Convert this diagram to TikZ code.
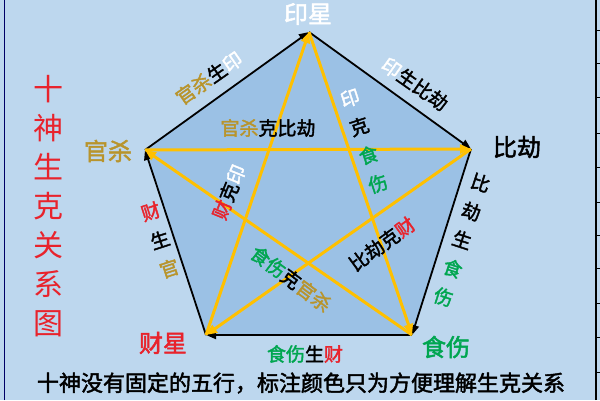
\documentclass[tikz,border=0pt]{standalone}
\usepackage{fontspec}
\setmainfont{Noto Sans CJK SC}[AutoFakeBold=2]
\usetikzlibrary{arrows.meta}
\usepackage{xcolor}
\definecolor{bgblue}{HTML}{BDD7EE}
\definecolor{penta}{HTML}{9BC1E5}
\definecolor{star}{HTML}{FFC000}
\definecolor{gs}{HTML}{B8942C}
\definecolor{ss}{HTML}{00A650}
\definecolor{cx}{HTML}{E8232C}

\begin{document}
\begin{tikzpicture}[x=1pt, y=1pt,
        sheng/.style={line width=1.8pt, -{Triangle[length=10pt, width=8pt]}},
        ke/.style={star, line width=3pt, -{Triangle[length=11pt, width=9pt]}},
        big/.style={font=\fontsize{24}{24}\selectfont\bfseries, inner sep=0pt},
        small/.style={font=\fontsize{19}{30}\selectfont\bfseries, inner sep=0pt, align=center}]
        \useasboundingbox (0, 0) rectangle (600, 400);
        \fill[bgblue] (0, 0) rectangle (600, 400);
        \draw[line width=1pt, black!60!blue] (4, 0)--(4, 400);
        \draw[line width=2.2pt] (596, 0)--(596, 400);
        \foreach \y in {28, 63, 97, 132, 165, 198, 233, 267, 303, 337, 370}
            \draw[line width=0.6pt] (596, \y)--(600, \y);

        % the five stars
        \coordinate (yin) at (309, 368);
        \coordinate (bijie) at (471, 251);
        \coordinate (shishang) at (412, 65);
        \coordinate (caixing) at (206, 65);
        \coordinate (guansha) at (145, 250);
        \fill[penta] (yin)--(bijie)--(shishang)--(caixing)--(guansha)--cycle;
        \path[sheng]
            (guansha) edge (yin)
            (yin) edge (bijie)
            (bijie) edge (shishang)
            (shishang) edge (caixing)
            (caixing) edge (guansha);
        \draw[ke] (guansha)--(bijie);
        \draw[ke] (bijie)--(caixing);
        \draw[ke] (caixing)--(yin);
        \draw[ke] (yin)--(shishang);
        \draw[ke] (shishang)--(guansha);

        \node[big, white] (yinlbl) at (308, 386) {印星};
        \node[big, black] (bijielbl) at (517, 253) {比劫};
        \node[big, ss] (shishanglbl) at (446, 53) {食伤};
        \node[big, cx] (caixinglbl) at (163, 57) {财星};
        \node[big, gs] (guanshalbl) at (108, 249) {官杀};

        % sheng along the edges
        \node[small, rotate=35] (gsy) at (209, 322) {{\color{gs}官杀}生{\color{white}印}};
        \node[small, rotate=-35] (ybj) at (415, 316) {{\color{white}印}生比劫};
        \node[small, rotate=-18] (bjss) at (462, 160) {比\\劫\\生\\{\color{ss}食}\\{\color{ss}伤}};
        \node[small] (sscx) at (305, 46) {{\color{ss}食伤}生{\color{cx}财}};
        \node[small, rotate=18] (cxgs) at (160, 160) {{\color{cx}财}\\生\\{\color{gs}官}};

        % ke inside
        \node[small] (gsbj) at (268, 272) {{\color{gs}官杀}克比劫};
        \node[small, rotate=18] (yss) at (364, 259) {{\color{white}印}\\克\\{\color{ss}食}\\{\color{ss}伤}};
        \node[small, rotate=68] (cxy) at (229, 208) {{\color{cx}财}克{\color{white}印}};
        \node[small, rotate=36] (bjcx) at (382, 156) {比劫克{\color{cx}财}};
        \node[small, rotate=-37] (ssgs) at (291, 121) {{\color{ss}食伤}克{\color{gs}官杀}};

        \node[font=\fontsize{30}{39}\selectfont, cx, align=center, inner sep=0pt] (title) at (48, 194)
            {十\\神\\生\\克\\关\\系\\图};
        \node[font=\fontsize{22}{22}\selectfont\bfseries, inner sep=0pt] (note) at (301, 17)
            {十神没有固定的五行，标注颜色只为方便理解生克关系};
\end{tikzpicture}
\end{document}
